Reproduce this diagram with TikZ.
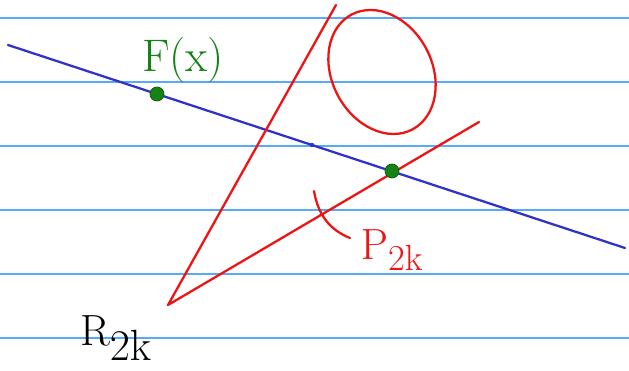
\documentclass[tikz,border=0pt]{standalone}
\usepackage{tikz}
\usetikzlibrary{positioning, calc}
\definecolor{ruleblue}{RGB}{85, 170, 250}
\definecolor{penblue}{RGB}{50, 50, 200}
\definecolor{penred}{RGB}{238, 20, 20}
\definecolor{pengreen}{RGB}{20, 130, 20}

\begin{document}
\begin{tikzpicture}[x=0.02cm, y=-0.02cm,
    rule/.style={draw=ruleblue, line width=0.8pt},
    pen/.style={line width=1.3pt, line cap=round, line join=round},
    spot/.style={circle, fill=pengreen, draw=pengreen!70!black, inner sep=0pt, minimum size=8pt},
    hand/.style={inner sep=0pt, font=\fontsize{#1}{#1}\selectfont}]
  \useasboundingbox (0,0) rectangle (629,371);
  % ruled paper
  \foreach \y in {18,82,146,210,274,338}
    \draw[rule] (0,\y) -- (629,\y);

  % the blue line
  \coordinate (lineA) at (8,45);
  \coordinate (lineB) at (625,248);
  \draw[pen, penblue] (lineA) -- (lineB);
  \fill[penblue] (312,145) circle (2.2);

  % red wedge
  \coordinate (top) at (336,5);
  \coordinate (corner) at (168,305);
  \coordinate (tip) at (479,122);
  \draw[pen, penred] (top) -- (corner) -- (tip);
  \draw[pen, penred] (382,72) ellipse [x radius=1.3cm, y radius=1.0cm, rotate=-62];
  \draw[pen, penred] (314,191) .. controls (318,215) and (330,230) .. (350,238);

  % points
  \node[spot] (fpt) at (157,94) {};
  \node[spot] (ppt) at (392,171) {};

  % labels
  \node[hand=26, text=pengreen] (flabel) at (183,60) {F(x)};
  \node[hand=32, text=penred] (plabel) at (392,250) {$\mathrm{P}_{\mathrm{2k}}$};
  \node[hand=34] (rlabel) at (116,338) {$\mathrm{R}_{\mathrm{2k}}$};
\end{tikzpicture}
\end{document}
